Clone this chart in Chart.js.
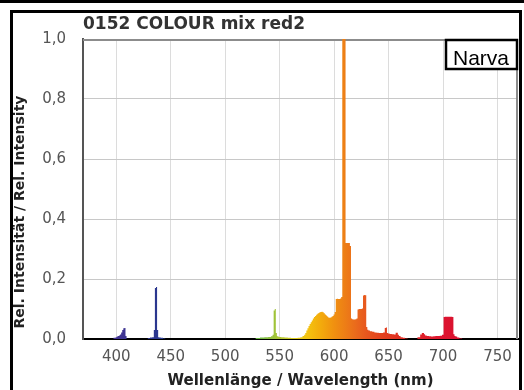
<!DOCTYPE html>
<html>
<head>
<meta charset="utf-8">
<script src="https://cdn.jsdelivr.net/npm/chart.js@4.4.1/dist/chart.umd.min.js"></script>
<style>
  html, body { margin: 0; padding: 0; background: #fff; width: 524px; height: 390px; overflow: hidden; }
  #topRule { position: absolute; left: 0; top: 0; width: 524px; height: 3px; background: #000; }
  #frame { position: absolute; left: 10px; top: 10px; width: 506px; height: 400px; border: 3px solid #000; }
  #plot { position: absolute; left: 0; top: 0; }
</style>
</head>
<body>
<div id="topRule"></div>
<div id="frame"></div>
<canvas id="plot" width="524" height="390"></canvas>
<script>
// Emission spectrum of the lamp: wavelength (nm) and relative intensity
const wavelengthNm = [
  396, 399, 400, 401, 402, 403, 404, 405, 406, 407, 408, 409, 410,
  428, 430, 432, 434, 435, 436, 437, 438, 439, 440, 442, 444, 446,
  526, 530, 534, 538, 541, 543, 544, 545, 546, 547, 548, 550, 553, 556, 559, 562, 565, 568,
  570, 572, 573, 574, 575, 576, 577, 578, 579, 580, 581, 582, 583, 584, 585, 586, 587, 588, 589,
  590, 591, 592, 593, 594, 595, 596, 597, 598, 599, 600, 601, 602, 603, 604, 605, 606, 607,
  608, 609, 610, 611, 612, 613, 614, 615, 616, 617, 618, 619, 620, 621, 622, 623, 624, 625, 626,
  627, 628, 629, 630, 631, 632, 634, 636, 638, 640, 642, 644, 646, 647, 648, 649, 650, 652, 654,
  656, 657, 658, 659, 660, 662, 664, 666, 669,
  675, 678, 680, 681, 682, 683, 684, 686, 688, 690, 692, 694, 696, 698, 700,
  701, 702, 703, 704, 705, 706, 707, 708, 709, 710, 711, 712, 714, 716, 719
];
const relIntensity = [
  0, 0.004, 0.006, 0.008, 0.010, 0.012, 0.015, 0.022, 0.030, 0.036, 0.037, 0.010, 0,
  0, 0.003, 0.005, 0.006, 0.030, 0.170, 0.173, 0.030, 0.006, 0.005, 0.004, 0.002, 0,
  0, 0.003, 0.005, 0.006, 0.007, 0.009, 0.014, 0.095, 0.100, 0.020, 0.009, 0.007, 0.006, 0.005, 0.004, 0.003, 0.003, 0.004,
  0.006, 0.010, 0.014, 0.020, 0.028, 0.036, 0.043, 0.050, 0.056, 0.062, 0.068, 0.073, 0.077, 0.081, 0.084, 0.087, 0.089, 0.090, 0.091,
  0.089, 0.086, 0.082, 0.078, 0.075, 0.072, 0.071, 0.072, 0.074, 0.077, 0.082, 0.090, 0.133, 0.134, 0.133, 0.133, 0.135, 0.140,
  1.000, 1.000, 1.000, 0.320, 0.320, 0.320, 0.320, 0.310, 0.068, 0.066, 0.065, 0.065, 0.066, 0.068, 0.098, 0.100, 0.100, 0.100, 0.102,
  0.145, 0.147, 0.146, 0.040, 0.031, 0.028, 0.026, 0.024, 0.022, 0.021, 0.020, 0.020, 0.022, 0.037, 0.038, 0.020, 0.018, 0.017, 0.016,
  0.015, 0.021, 0.021, 0.014, 0.010, 0.006, 0.004, 0.002, 0,
  0, 0.006, 0.015, 0.020, 0.020, 0.016, 0.012, 0.010, 0.009, 0.008, 0.009, 0.010, 0.010, 0.011, 0.014,
  0.073, 0.074, 0.074, 0.074, 0.074, 0.074, 0.074, 0.074, 0.073, 0.016, 0.010, 0.008, 0.005, 0.002, 0
];

const xTickValues = [400, 450, 500, 550, 600, 650, 700, 750];
const yTickValues = [0, 0.2, 0.4, 0.6, 0.8, 1.0];
const yTickLabels = ['0,0', '0,2', '0,4', '0,6', '0,8', '1,0'];

// Colour of light by wavelength, used to tint the filled spectrum
const hueNm    = [380, 410, 436, 470, 500, 525, 546, 562, 575, 588, 600, 610, 620, 630, 645, 665, 700, 770];
const hueColor = ['#4a2c8c', '#3c3592', '#2b368e', '#2a5fae', '#2f9a8a', '#5ab34a', '#a2c43a', '#d8cc20',
                  '#f4c410', '#f3aa0c', '#f09010', '#ed7e16', '#ea6a1c', '#e7561e', '#e3401e', '#e02a24', '#dd1430', '#c80a28'];

let spectrumFill = null;
function spectrumGradient(chart) {
  const area = chart.chartArea;
  if (!area) return null;
  if (spectrumFill) return spectrumFill;
  const x = chart.scales.x;
  const g = chart.ctx.createLinearGradient(area.left, 0, area.right, 0);
  hueNm.forEach((nm, i) => {
    const t = (x.getPixelForValue(nm) - area.left) / (area.right - area.left);
    g.addColorStop(Math.min(1, Math.max(0, t)), hueColor[i]);
  });
  spectrumFill = g;
  return g;
}

const decorations = {
  id: 'decorations',
  beforeDatasetsDraw(chart) {
    const { ctx, chartArea: a } = chart;
    ctx.save();
    ctx.strokeStyle = '#8c8c8c';
    ctx.lineWidth = 2;
    ctx.beginPath();
    ctx.moveTo(a.left, a.top + 1);
    ctx.lineTo(a.right, a.top + 1);
    ctx.moveTo(a.right - 1, a.top);
    ctx.lineTo(a.right - 1, a.bottom);
    ctx.stroke();
    ctx.restore();
  },
  afterDraw(chart) {
    const { ctx, chartArea: a } = chart;
    ctx.save();
    // chart title
    ctx.fillStyle = '#333';
    ctx.font = 'bold 17px "DejaVu Sans"';
    ctx.textAlign = 'left';
    ctx.textBaseline = 'alphabetic';
    ctx.fillText('0152 COLOUR mix red2', a.left, 29);
    // vertical axis title
    ctx.save();
    ctx.translate(20, a.bottom - 127);
    ctx.rotate(-Math.PI / 2);
    ctx.textAlign = 'center';
    ctx.textBaseline = 'middle';
    ctx.fillStyle = '#222';
    ctx.font = 'bold 14px "DejaVu Sans"';
    ctx.fillText('Rel. Intensität / Rel. Intensity', 0, 0);
    ctx.restore();
    // brand box
    const bw = 71, bh = 29;
    const bx = a.right - 1 - bw, by = a.top + 1;
    ctx.fillStyle = '#fff';
    ctx.fillRect(bx, by, bw, bh);
    ctx.strokeStyle = '#000';
    ctx.lineWidth = 2.5;
    ctx.strokeRect(bx, by, bw, bh);
    ctx.fillStyle = '#000';
    ctx.font = '21px "Liberation Sans"';
    ctx.textAlign = 'left';
    ctx.textBaseline = 'alphabetic';
    ctx.fillText('Narva', bx + 7, by + 25);
    ctx.restore();
  }
};

new Chart(document.getElementById('plot'), {
  type: 'line',
  data: {
    datasets: [{
      data: wavelengthNm.map((nm, i) => ({ x: nm, y: relIntensity[i] })),
      stepped: 'middle',
      fill: 'origin',
      pointRadius: 0,
      borderWidth: 0,
      borderColor: 'rgba(0,0,0,0)',
      backgroundColor: ctx => spectrumGradient(ctx.chart)
    }]
  },
  options: {
    responsive: false,
    animation: false,
    devicePixelRatio: 1,
    layout: { padding: { top: 39, left: 10, right: 6, bottom: 0 } },
    plugins: { legend: { display: false }, tooltip: { enabled: false } },
    scales: {
      x: {
        type: 'linear',
        min: 369.5,
        max: 768.8,
        afterFit: s => { s.height = 51; },
        afterBuildTicks: s => { s.ticks = xTickValues.map(v => ({ value: v })); },
        ticks: {
          padding: 9,
          color: '#555',
          font: { family: 'DejaVu Sans', size: 15 },
          callback: v => String(v),
          maxRotation: 0
        },
        grid: { color: '#dcdcdc', lineWidth: 1, drawTicks: false },
        border: { color: '#000', width: 2 },
        title: {
          display: true,
          text: 'Wellenlänge / Wavelength (nm)',
          color: '#222',
          font: { family: 'DejaVu Sans', size: 15, weight: 'bold' },
          padding: { top: 0, bottom: 0 }
        }
      },
      y: {
        min: 0,
        max: 1,
        afterFit: s => { s.width = 73; },
        afterBuildTicks: s => { s.ticks = yTickValues.map(v => ({ value: v })); },
        ticks: {
          padding: 17,
          color: '#555',
          font: { family: 'DejaVu Sans', size: 15 },
          callback: (v, i) => yTickLabels[i]
        },
        grid: { color: '#c8c8c8', lineWidth: 1, drawTicks: false },
        border: { color: '#555', width: 2 }
      }
    }
  },
  plugins: [decorations]
});
</script>
</body>
</html>
